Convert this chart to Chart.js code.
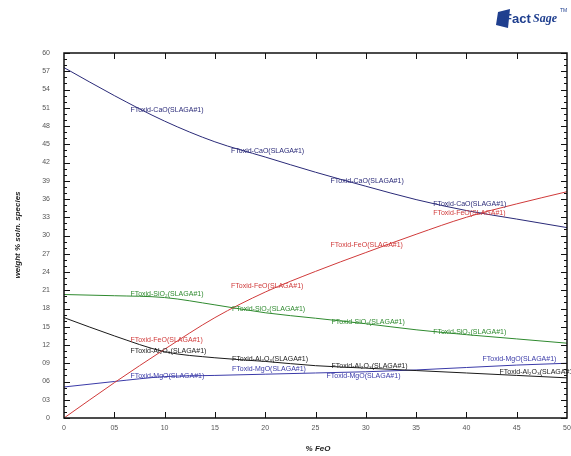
<!DOCTYPE html>
<html>
<head>
    <meta charset="utf-8" />
    <title>FactSage weight % chart</title>
    <script src="https://cdn.jsdelivr.net/npm/chart.js"></script>
    <style>
        body { margin: 0; background: #fff; }
        #wrap { width: 571px; height: 456px; }
    </style>
</head>
<body>
    <div id="wrap">
        <canvas id="lineChart" width="571" height="456"></canvas>
    </div>
<script>
    // % FeO values
    const feo = [0, 5, 10, 15, 20, 25, 30, 35, 40, 45, 50]
    // weight % of each species
    const cao   = [57.6, 53.0, 48.8, 45.4, 42.9, 40.4, 38.1, 35.9, 34.1, 32.7, 31.3]
    const feoSp = [0, 5.8, 11.3, 16.5, 20.7, 24.1, 27.2, 30.2, 33.0, 35.2, 37.2]
    const sio2  = [20.3, 20.1, 19.8, 18.6, 17.3, 16.4, 15.5, 14.5, 13.7, 13.0, 12.3]
    const al2o3 = [16.5, 13.5, 10.9, 9.9, 9.3, 8.6, 8.2, 7.8, 7.4, 7.0, 6.6]
    const mgo   = [5.1, 6.0, 6.8, 7.0, 7.2, 7.4, 7.6, 7.9, 8.3, 8.7, 9.0]

    const names = ['FToxid-CaO(SLAGA#1)', 'FToxid-FeO(SLAGA#1)', 'FToxid-SiO\u2082(SLAGA#1)',
                   'FToxid-Al\u2082O\u2083(SLAGA#1)', 'FToxid-MgO(SLAGA#1)']
    const colors = ['#2a2a78', '#d03a3a', '#2f8a2f', '#1a1a1a', '#3a3aa8']
    const series = [cao, feoSp, sio2, al2o3, mgo]

    // where the curve labels sit, in data units [x, y]
    const labelSpots = [
        [[6.6, 50.7], [16.6, 43.9], [26.5, 39.0], [36.7, 35.2]],
        [[36.7, 33.7], [26.5, 28.5], [16.6, 21.7], [6.6, 12.8]],
        [[6.6, 20.4], [16.7, 17.9], [26.6, 15.8], [36.7, 14.1]],
        [[6.6, 11.0], [16.7, 9.7], [26.6, 8.6], [43.3, 7.6]],
        [[6.6, 6.9], [16.7, 8.1], [26.1, 6.9], [41.6, 9.7]]
    ]

    function pad2(v) {
        return v === 0 ? '0' : String(v).padStart(2, '0')
    }

    const datasets = series.map(function (s, i) {
        return {
            label: names[i],
            data: feo.map(function (x, j) { return { x: x, y: s[j] } }),
            borderColor: colors[i],
            borderWidth: 1,
            pointRadius: 0,
            cubicInterpolationMode: 'monotone',
            fill: false
        }
    })

    // frame, inward ticks, curve labels, axis titles and logo
    const decor = {
        id: 'decor',
        afterDraw: function (chart) {
            const ctx = chart.ctx
            const a = chart.chartArea
            const xs = chart.scales.x
            const ys = chart.scales.y
            ctx.save()
            ctx.strokeStyle = '#111'
            ctx.lineWidth = 1.5
            ctx.strokeRect(a.left, a.top, a.right - a.left, a.bottom - a.top)
            ctx.lineWidth = 1
            ctx.beginPath()
            for (let v = 0; v <= 60; v += 1) {
                const py = Math.round(ys.getPixelForValue(v)) + 0.5
                const len = v % 3 === 0 ? 6 : 3
                ctx.moveTo(a.left, py); ctx.lineTo(a.left + len, py)
                ctx.moveTo(a.right, py); ctx.lineTo(a.right - len, py)
            }
            for (let v = 5; v < 50; v += 5) {
                const px = Math.round(xs.getPixelForValue(v)) + 0.5
                ctx.moveTo(px, a.bottom); ctx.lineTo(px, a.bottom - 6)
                ctx.moveTo(px, a.top); ctx.lineTo(px, a.top + 6)
            }
            ctx.stroke()

            ctx.font = '7px "Liberation Sans", Arial, sans-serif'
            ctx.textBaseline = 'middle'
            ctx.textAlign = 'left'
            labelSpots.forEach(function (spots, i) {
                ctx.fillStyle = colors[i]
                spots.forEach(function (p) {
                    ctx.fillText(names[i], xs.getPixelForValue(p[0]), ys.getPixelForValue(p[1]))
                })
            })

            // axis titles
            ctx.fillStyle = '#222'
            ctx.font = 'italic bold 8px "Liberation Sans", Arial, sans-serif'
            ctx.textAlign = 'center'
            ctx.fillText('% FeO', 318, 449)
            ctx.save()
            ctx.translate(18, 235)
            ctx.rotate(-Math.PI / 2)
            ctx.fillText('weight % soln. species', 0, 0)
            ctx.restore()

            // FactSage logo
            ctx.fillStyle = '#1f3f8f'
            ctx.beginPath()
            ctx.moveTo(498, 12); ctx.lineTo(510, 9); ctx.lineTo(508, 28); ctx.lineTo(496, 25)
            ctx.closePath()
            ctx.fill()
            ctx.textAlign = 'left'
            ctx.font = 'bold 13px "Liberation Sans", Arial, sans-serif'
            ctx.fillText('Fact', 504, 19)
            ctx.font = 'bold italic 12px "Liberation Serif", serif'
            ctx.fillText('Sage', 533, 19)
            ctx.font = '5px "Liberation Sans", Arial, sans-serif'
            ctx.fillText('TM', 560, 11)
            ctx.restore()
        }
    }

    new Chart(document.getElementById('lineChart'), {
        type: 'line',
        data: { datasets: datasets },
        options: {
            responsive: false,
            animation: false,
            layout: { padding: { left: 0, top: 53, right: 4, bottom: 0 } },
            plugins: {
                legend: { display: false },
                tooltip: { enabled: false }
            },
            scales: {
                x: {
                    type: 'linear',
                    min: 0,
                    max: 50,
                    grid: { display: false, drawTicks: false },
                    border: { display: false },
                    ticks: {
                        stepSize: 5,
                        autoSkip: false,
                        maxRotation: 0,
                        padding: 6,
                        color: '#555',
                        font: { size: 7, family: '"Liberation Sans", Arial, sans-serif' },
                        callback: function (v) { return pad2(v) }
                    },
                    afterFit: function (s) { s.height = 38; s.paddingRight = 0; s.paddingLeft = 0 }
                },
                y: {
                    min: 0,
                    max: 60,
                    grid: { display: false, drawTicks: false },
                    border: { display: false },
                    ticks: {
                        stepSize: 3,
                        padding: 14,
                        color: '#555',
                        font: { size: 7, family: '"Liberation Sans", Arial, sans-serif' },
                        callback: function (v) { return pad2(v) }
                    },
                    afterFit: function (s) { s.width = 64; s.paddingTop = 0; s.paddingBottom = 0 }
                }
            }
        },
        plugins: [decor]
    })
</script>
</body>
</html>
